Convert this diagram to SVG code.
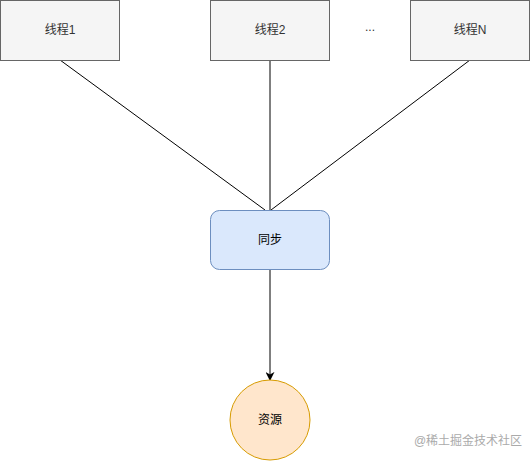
<svg xmlns="http://www.w3.org/2000/svg" width="531" height="461" viewBox="0 0 531 461">
<defs>
<style>
text{font-family:"Liberation Sans","Noto Sans CJK SC",sans-serif;font-size:12px;text-anchor:middle;dominant-baseline:central}
.thread rect{fill:#f5f5f5;stroke:#666666;stroke-width:1}
.thread text{fill:#333333}
.edge{stroke:#000000;stroke-width:1;fill:none}
</style>
<marker id="arrow" viewBox="0 0 10 10" refX="9" refY="5" markerWidth="9" markerHeight="9" markerUnits="userSpaceOnUse" orient="auto">
<path d="M0,0 L10,5 L0,10 L3,5 Z" fill="#000000"/>
</marker>
</defs>
<rect width="531" height="461" fill="#ffffff"/>
<g id="connectors">
<line class="edge" x1="60" y1="60" x2="265" y2="210"/>
<line class="edge" x1="270" y1="60" x2="270" y2="210"/>
<line class="edge" x1="470" y1="60" x2="271" y2="210"/>
<line class="edge" x1="270" y1="270" x2="270" y2="380" marker-end="url(#arrow)"/>
</g>
<g id="thread1" class="thread">
<rect x="0.5" y="0.5" width="119" height="60"/>
<text x="60" y="30">线程1</text>
</g>
<g id="thread2" class="thread">
<rect x="210.5" y="0.5" width="119" height="60"/>
<text x="270" y="30">线程2</text>
</g>
<g id="ellipsis">
<text x="370" y="27" fill="#333333">...</text>
</g>
<g id="threadN" class="thread">
<rect x="410.5" y="0.5" width="119" height="60"/>
<text x="470" y="30">线程N</text>
</g>
<g id="sync">
<rect x="210.5" y="210.5" width="119" height="59" rx="9" fill="#dae8fc" stroke="#6c8ebf"/>
<text x="270" y="240" fill="#000000">同步</text>
</g>
<g id="resource">
<circle cx="270" cy="420" r="40" fill="#ffe6cc" stroke="#d79b00"/>
<text x="270" y="420" fill="#000000">资源</text>
</g>
<text x="468" y="441" fill="#aaaaaa" style="font-size:12px">@稀土掘金技术社区</text>
</svg>
